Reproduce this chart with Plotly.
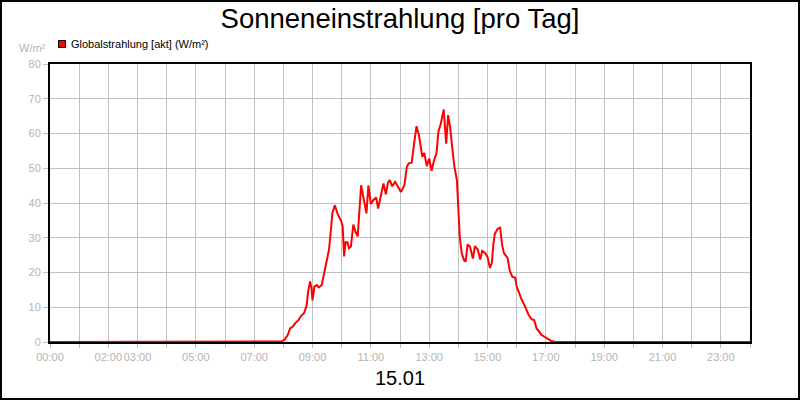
import plotly.graph_objects as go

# --- data (time of day, global radiation W/m²) ---
times = ["00:00", "07:45", "07:57", "08:03", "08:09", "08:14", "08:20", "08:25", "08:31", "08:36",
         "08:43", "08:48", "08:51", "08:55", "08:58", "09:00", "09:04", "09:09", "09:13", "09:19",
         "09:24", "09:29", "09:34", "09:38", "09:41", "09:46", "09:52", "09:59", "10:02", "10:05",
         "10:08", "10:12", "10:15", "10:19", "10:24", "10:29", "10:33", "10:40", "10:44", "10:51",
         "10:55", "11:00", "11:05", "11:11", "11:15", "11:21", "11:26", "11:31", "11:35", "11:39",
         "11:44", "11:50", "11:55", "12:02", "12:09", "12:14", "12:18", "12:24", "12:29", "12:34",
         "12:39", "12:43", "12:46", "12:50", "12:55", "13:00", "13:05", "13:10", "13:15", "13:19",
         "13:24", "13:30", "13:35", "13:39", "13:43", "13:48", "13:52", "13:57", "14:00", "14:03",
         "14:07", "14:12", "14:15", "14:19", "14:24", "14:30", "14:34", "14:40", "14:45", "14:49",
         "14:55", "15:00", "15:05", "15:09", "15:12", "15:15", "15:21", "15:26", "15:30", "15:34",
         "15:41", "15:46", "15:51", "15:57", "16:00", "16:05", "16:10", "16:16", "16:21", "16:25",
         "16:31", "16:36", "16:41", "16:46", "16:51", "16:57", "17:04", "17:11", "17:19", "24:00"]
values = [0, 0, 0.2, 0.7, 2.0, 3.9, 4.5, 5.5, 6.3, 7.4,
          8.4, 10.6, 14.5, 17.4, 15.5, 12.0, 16.0, 16.4, 15.7, 16.4,
          19.8, 23.2, 26.6, 32.4, 37.2, 39.3, 36.7, 34.8, 33.3, 24.6,
          28.7, 28.7, 27.0, 27.5, 33.8, 31.5, 30.4, 45.1, 41.8, 37.0,
          45.1, 39.7, 40.8, 41.6, 38.4, 42.7, 45.6, 42.5, 45.8, 46.6,
          44.8, 46.1, 44.8, 43.2, 45.1, 50.4, 51.4, 51.6, 57.1, 62.1,
          59.5, 56.2, 53.3, 54.4, 50.6, 52.8, 49.3, 52.3, 54.2, 60.5,
          62.9, 66.9, 57.1, 65.3, 61.9, 55.2, 50.4, 46.6, 37.0, 30.2,
          25.5, 23.5, 23.1, 28.1, 27.4, 24.0, 27.6, 26.6, 23.7, 26.2,
          25.6, 24.5, 21.3, 22.8, 28.0, 31.1, 32.6, 32.9, 28.0, 25.5,
          24.3, 20.5, 18.8, 18.5, 16.0, 14.0, 12.3, 10.6, 8.7, 7.7,
          6.5, 6.3, 3.9, 2.9, 2.1, 1.5, 0.8, 0.3, 0, 0]

tick_hours = list(range(0, 25))
tick_labels = ["00:00", "", "02:00", "03:00", "", "05:00", "", "07:00", "", "09:00", "", "11:00", "",
               "13:00", "", "15:00", "", "17:00", "", "19:00", "", "21:00", "", "23:00", ""]
y_ticks = [0, 10, 20, 30, 40, 50, 60, 70, 80]

title_text = "Sonneneinstrahlung [pro Tag]"
date_text = "15.01"
series_name = "Globalstrahlung [akt] (W/m²)"
unit_text = "W/m²"

hours = [int(t[:2]) + int(t[3:]) / 60 for t in times]

FONT = "Liberation Sans, Arial, sans-serif"
GRAY = "#b4b4b4"
GRID = "#c0c0c0"

fig = go.Figure()
fig.add_trace(go.Scatter(x=hours, y=values, mode="lines", name=series_name,
                         line=dict(color="#ff0000", width=2), showlegend=False,
                         hoverinfo="x+y"))

L, R, T, B = 50, 50, 64, 58
W, H = 800, 400
pw, ph = W - L - R, H - T - B

def px(xp):
    return (xp - L) / pw

def py(yp):
    return (H - B - yp) / ph

fig.update_layout(
    width=W, height=H,
    margin=dict(l=L, r=R, t=T, b=B, pad=0, autoexpand=False),
    paper_bgcolor="white", plot_bgcolor="white",
    font=dict(family=FONT, color=GRAY, size=11),
    title=dict(text=title_text, x=0.5, xanchor="center", y=1 - 18 / H, yanchor="middle",
               font=dict(family=FONT, size=27.5, color="#000000")),
    xaxis=dict(range=[0, 24], tickmode="array", tickvals=tick_hours, ticktext=tick_labels,
               tickangle=0,
               showgrid=True, gridcolor=GRID, gridwidth=1,
               showline=True, linecolor="#000000", linewidth=2, mirror=True,
               ticks="outside", ticklen=4, tickcolor=GRID, tickfont=dict(color=GRAY, size=11),
               zeroline=False, layer="below traces", fixedrange=True),
    yaxis=dict(range=[0, 80], tickmode="array", tickvals=y_ticks,
               showgrid=True, gridcolor=GRID, gridwidth=1,
               showline=True, linecolor="#000000", linewidth=2, mirror=True,
               ticks="outside", ticklen=5, tickcolor=GRID, tickfont=dict(color=GRAY, size=11),
               zeroline=False, layer="below traces", fixedrange=True),
    showlegend=False,
)

# outer frame
fig.add_shape(type="rect", xref="paper", yref="paper",
              x0=px(1), x1=px(W - 1), y0=py(H - 1), y1=py(1),
              line=dict(color="#000000", width=2), fillcolor="rgba(0,0,0,0)", layer="above")

# legend marker + text
fig.add_shape(type="rect", xref="paper", yref="paper",
              x0=px(58.5), x1=px(65.5), y0=py(47.5), y1=py(40.5),
              line=dict(color="#000000", width=1), fillcolor="#ff0000")
fig.add_annotation(text=series_name, xref="paper", yref="paper", x=px(69), y=py(44),
                   xanchor="left", yanchor="middle", showarrow=False,
                   font=dict(family=FONT, size=11, color="#000000"))
# unit label
fig.add_annotation(text=unit_text, xref="paper", yref="paper", x=px(48), y=py(48),
                   xanchor="right", yanchor="middle", showarrow=False,
                   font=dict(family=FONT, size=11, color=GRAY))
# date label
fig.add_annotation(text=date_text, xref="paper", yref="paper", x=0.5, y=py(378),
                   xanchor="center", yanchor="middle", showarrow=False,
                   font=dict(family=FONT, size=20, color="#000000"))

fig.write_html("out.html", config={"displayModeBar": False},
               post_script="document.body.style.margin='0';document.body.style.overflow='hidden';")
